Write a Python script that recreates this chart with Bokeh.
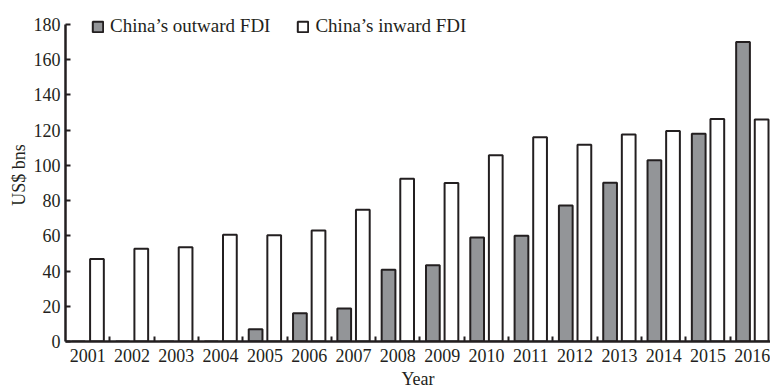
from bokeh.plotting import figure
from bokeh.models import ColumnDataSource, Range1d, FixedTicker, Legend, LegendItem
from bokeh.transform import dodge
from bokeh.embed import file_html
from bokeh.resources import INLINE

years = [2001, 2002, 2003, 2004, 2005, 2006, 2007, 2008,
         2009, 2010, 2011, 2012, 2013, 2014, 2015, 2016]
outward_fdi = [0, 0, 0, 0, 6.9, 16.1, 18.7, 40.7,
               43.3, 59.0, 60.0, 77.2, 90.2, 102.9, 118.0, 170.1]
inward_fdi = [46.9, 52.7, 53.5, 60.6, 60.3, 63.0, 74.8, 92.4,
              90.0, 105.7, 116.0, 111.7, 117.6, 119.6, 126.3, 126.0]
y_ticks = [0, 20, 40, 60, 80, 100, 120, 140, 160, 180]
series_names = ["China\u2019s outward FDI", "China\u2019s inward FDI"]

FONT = "Liberation Serif"
INK = "#231f20"
GRAY = "#939598"

src = ColumnDataSource(dict(year=years, outward=outward_fdi, inward=inward_fdi))

p = figure(width=770, height=391, output_backend="svg", toolbar_location=None,
           x_range=Range1d(2000.5, 2016.41), y_range=Range1d(0, 189.1),
           min_border_left=65, min_border_right=0, min_border_top=8,
           min_border_bottom=50)
p.outline_line_color = None
p.xgrid.visible = False
p.ygrid.visible = False
p.background_fill_color = "white"
p.border_fill_color = "white"

r_out = p.vbar(x=dodge("year", -0.21), top="outward", width=0.31, source=src,
               fill_color=GRAY, line_color=INK, line_width=2)
r_in = p.vbar(x=dodge("year", 0.21), top="inward", width=0.31, source=src,
              fill_color="white", line_color=INK, line_width=2)

# x axis
xa = p.xaxis[0]
xa.ticker = FixedTicker(ticks=years, minor_ticks=[y + 0.5 for y in years[:-1]])
xa.major_label_overrides = {y: str(y) for y in years}
xa.major_tick_in = 0
xa.major_tick_out = 0
xa.minor_tick_in = 5
xa.minor_tick_out = 0
xa.minor_tick_line_width = 2
xa.minor_tick_line_color = INK
xa.axis_line_width = 2.5
xa.axis_line_color = INK
xa.major_label_text_font = FONT
xa.major_label_text_font_size = "18px"
xa.major_label_text_color = INK
xa.major_label_standoff = 7
xa.axis_label = "Year"
xa.axis_label_text_font = FONT
xa.axis_label_text_font_size = "18px"
xa.axis_label_text_font_style = "normal"
xa.axis_label_text_color = INK
xa.axis_label_standoff = 4

# y axis
ya = p.yaxis[0]
ya.ticker = FixedTicker(ticks=y_ticks, minor_ticks=[])
ya.bounds = (0, 180)
ya.major_tick_in = 5
ya.major_tick_out = 0
ya.major_tick_line_width = 2
ya.major_tick_line_color = INK
ya.minor_tick_in = 0
ya.minor_tick_out = 0
ya.axis_line_width = 2.5
ya.axis_line_color = INK
ya.major_label_text_font = FONT
ya.major_label_text_font_size = "18px"
ya.major_label_text_color = INK
ya.major_label_standoff = 5
ya.axis_label = "US$ bns"
ya.axis_label_text_font = FONT
ya.axis_label_text_font_size = "18px"
ya.axis_label_text_font_style = "normal"
ya.axis_label_text_color = INK
ya.axis_label_standoff = 2

legend = Legend(items=[LegendItem(label=series_names[0], renderers=[r_out]),
                       LegendItem(label=series_names[1], renderers=[r_in])],
                orientation="horizontal", location=(26, 304),
                padding=0, margin=0, spacing=26,
                glyph_width=13, glyph_height=13, label_height=20,
                label_standoff=6, label_text_font=FONT,
                label_text_font_size="19px", label_text_color=INK,
                border_line_alpha=0, background_fill_alpha=0)
p.add_layout(legend, "center")

open("out.html", "w").write(file_html(p, INLINE))
